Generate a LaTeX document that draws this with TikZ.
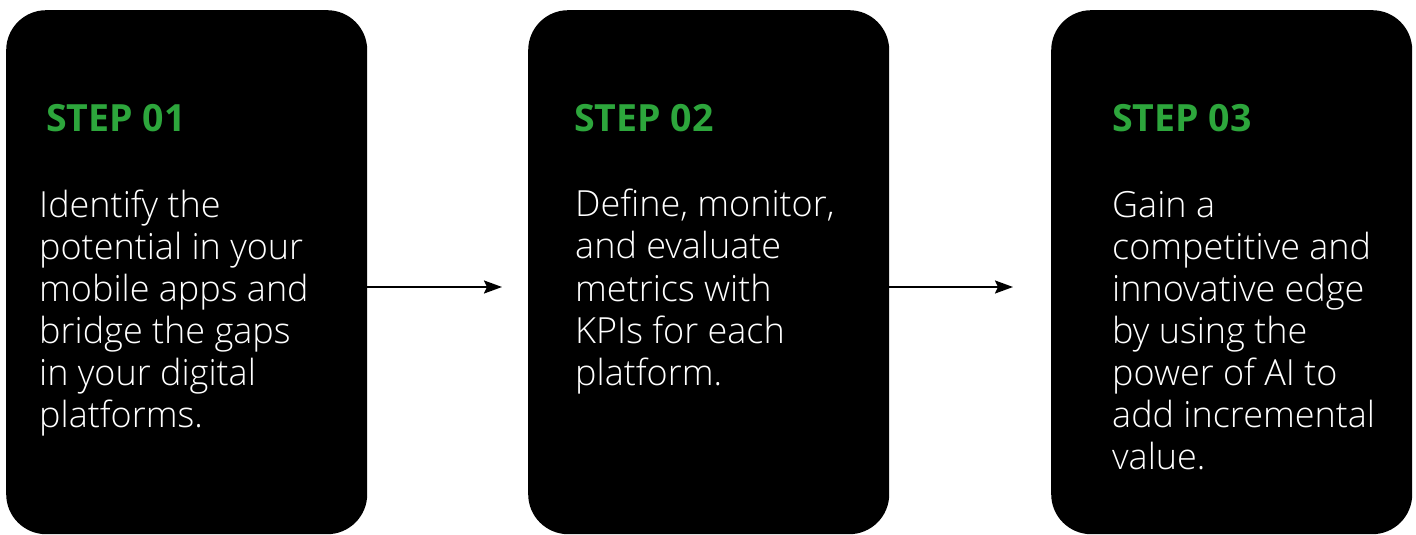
\documentclass[tikz,border=0pt]{standalone}
\usepackage{fontspec}
\setmainfont{Open Sans}
\newfontfamily\stepfont{Open Sans}[UprightFont=* Bold]
\newfontfamily\bodyfont{Open Sans}[UprightFont=* Light]
\usetikzlibrary{arrows.meta}
\definecolor{stepgreen}{RGB}{45,166,60}
\tikzset{
  card/.style={fill=black, rounded corners=40bp, minimum width=361bp,
    minimum height=524bp, inner sep=0pt, anchor=north west},
  steplabel/.style={text=stepgreen, anchor=base west, inner sep=0pt,
    font=\stepfont\fontsize{37.5bp}{42bp}\selectfont},
  bodytext/.style={text=white, anchor=base west, inner sep=0pt, align=left,
    font=\bodyfont\fontsize{36bp}{42bp}\selectfont},
  flow/.style={line width=2bp, -{Stealth[length=18bp, width=13bp, inset=3bp]}}
}
\begin{document}
\begin{tikzpicture}[x=1bp, y=-1bp]
  \useasboundingbox (0,0) rectangle (1416,535);

  % three step cards
  \node[card] (c1) at (6,10) {};
  \node[card] (c2) at (528,10) {};
  \node[card] (c3) at (1051,10) {};

  % headings
  \node[steplabel] (s1) at (46,132) {STEP 01};
  \node[steplabel] (s2) at (574,132) {STEP 02};
  \node[steplabel] (s3) at (1112,132) {STEP 03};

  % descriptions (anchored at the baseline of the last line, 42bp leading)
  \node[bodytext] (t1) at (39,427) {Identify the\\potential in your\\mobile apps and\\bridge the gaps\\in your digital\\platforms.};
  \node[bodytext] (t2) at (575,385) {Define, monitor,\\and evaluate\\metrics with\\KPIs for each\\platform.};
  \node[bodytext] (t3) at (1112,469) {Gain a\\competitive and\\innovative edge\\by using the\\power of AI to\\add incremental\\value.};

  % connectors between cards
  \coordinate (e1) at (502,287);
  \coordinate (e2) at (1013,287);
  \draw[flow] (c1.east |- e1) -- (e1);
  \draw[flow] (c2.east |- e2) -- (e2);
\end{tikzpicture}
\end{document}
